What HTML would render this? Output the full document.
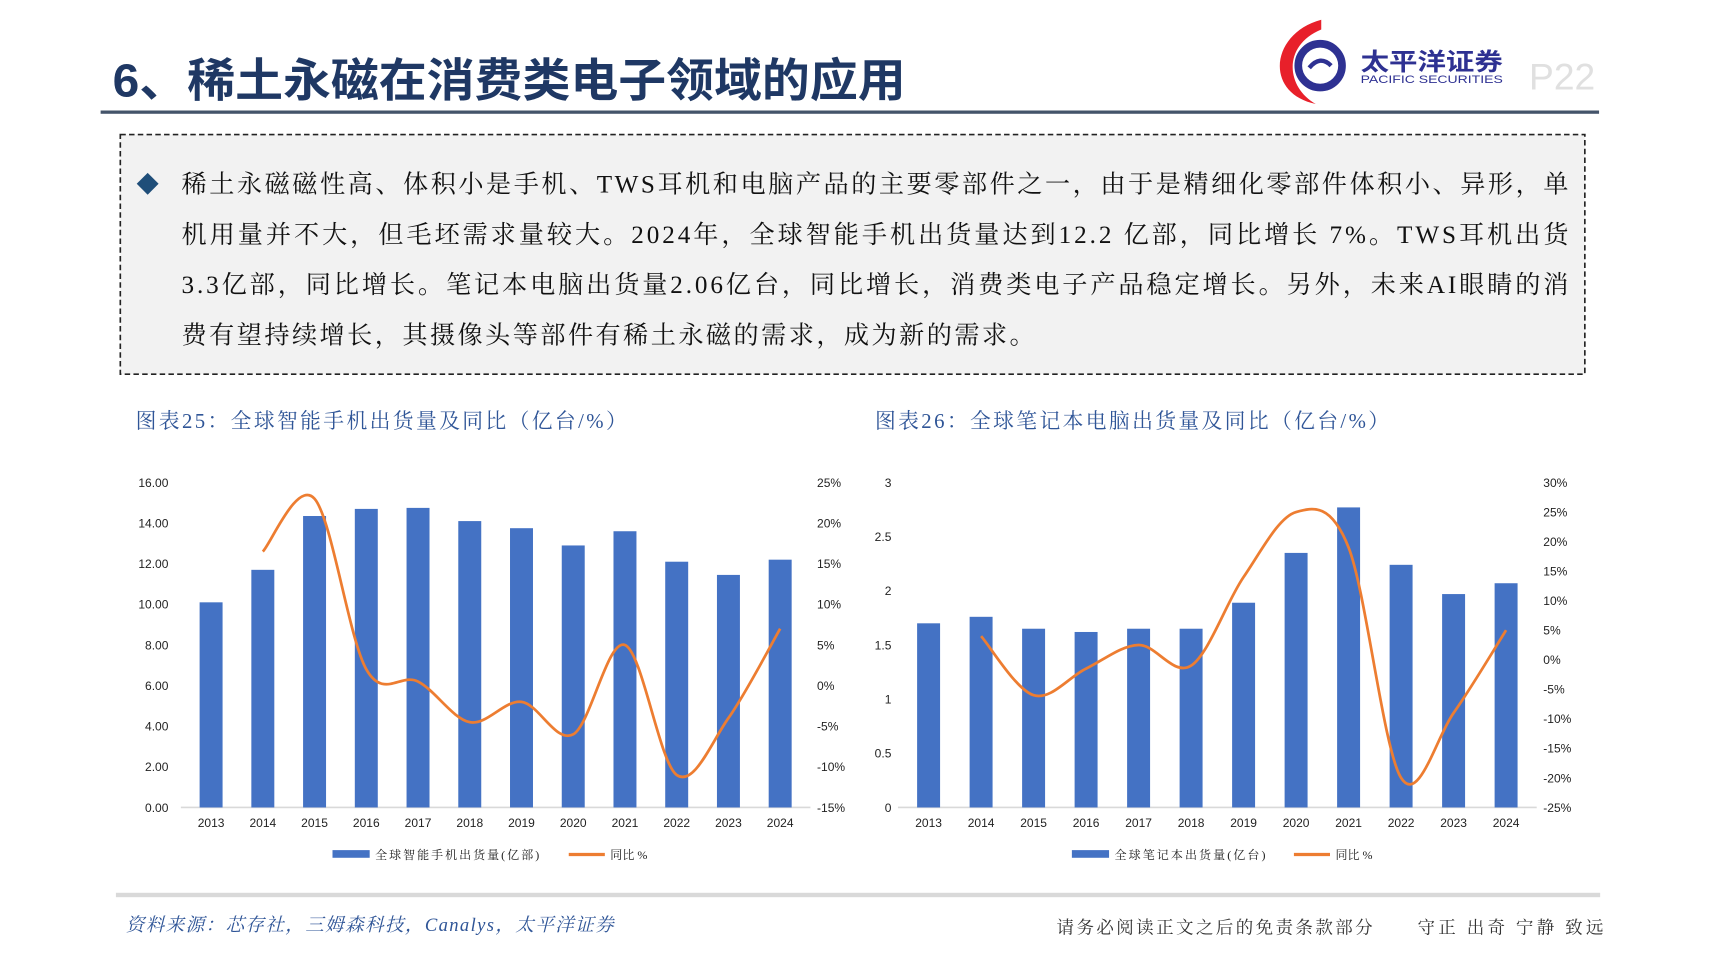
<!DOCTYPE html>
<html><head><meta charset="utf-8">
<style>
html,body{margin:0;padding:0;background:#fff;}
svg{display:block;}
.cj{font-family:"Liberation Serif","Noto Serif CJK SC",serif;}
.sn{font-family:"Liberation Sans","Noto Sans CJK SC",sans-serif;}
</style></head>
<body>
<svg id="page" width="1715" height="965" viewBox="0 0 1568 882" preserveAspectRatio="none" xmlns="http://www.w3.org/2000/svg">
  <!-- header -->
  <text x="103" y="88" class="sn" font-size="42" font-weight="bold" fill="#1f3864" textLength="725" lengthAdjust="spacingAndGlyphs">6、稀土永磁在消费类电子领域的应用</text>
  <rect x="92" y="101" width="1370" height="3" fill="#44546a"/>
  <g>
    <path d="M1208,18 C1162,30 1155,85 1203,95 C1176,80 1172,42 1208,27 Z" fill="#e8202a"/>
    <circle cx="1207" cy="60" r="20" fill="none" stroke="#2e3192" stroke-width="7"/>
    <path d="M1197,62 Q1207,50 1217,60" fill="none" stroke="#2e3192" stroke-width="4"/>
    <text x="1244" y="64" class="sn" font-size="22" font-weight="bold" fill="#2e3192" textLength="130" lengthAdjust="spacingAndGlyphs">太平洋证券</text>
    <text x="1244" y="76" class="sn" font-size="10" fill="#2e3192" textLength="130" lengthAdjust="spacingAndGlyphs">PACIFIC SECURITIES</text>
  </g>
  <text x="1398" y="82" class="sn" font-size="34" fill="#e0e0e0">P22</text>

  <!-- summary box -->
  <rect x="110" y="123" width="1339" height="219" fill="#f2f2f2" stroke="#222" stroke-width="1.5" stroke-dasharray="5,3"/>
  <path d="M135,158 L145,168 L135,178 L125,168 Z" fill="#1f4e79"/>
  <g class="cj" font-size="23" fill="#111">
    <text x="166" y="176" textLength="1268" lengthAdjust="spacing">稀土永磁磁性高、体积小是手机、TWS耳机和电脑产品的主要零部件之一，由于是精细化零部件体积小、异形，单</text>
    <text x="166" y="222" textLength="1268" lengthAdjust="spacing">机用量并不大，但毛坯需求量较大。2024年，全球智能手机出货量达到12.2 亿部，同比增长 7%。TWS耳机出货</text>
    <text x="166" y="268" textLength="1268" lengthAdjust="spacing">3.3亿部，同比增长。笔记本电脑出货量2.06亿台，同比增长，消费类电子产品稳定增长。另外，未来AI眼睛的消</text>
    <text x="166" y="314" textLength="780" lengthAdjust="spacing">费有望持续增长，其摄像头等部件有稀土永磁的需求，成为新的需求。</text>
  </g>

  <!-- chart titles -->
  <text x="124" y="391" class="cj" font-size="19" fill="#2f5597" textLength="449" lengthAdjust="spacing">图表25：全球智能手机出货量及同比（亿台/%）</text>
  <text x="800" y="391" class="cj" font-size="19" fill="#2f5597" textLength="470" lengthAdjust="spacing">图表26：全球笔记本电脑出货量及同比（亿台/%）</text>

  <g id="chart1"></g>
  <g id="chart2"></g>

  <!-- footer -->
  <rect x="106" y="816" width="1357" height="4" fill="#d9d9d9"/>
  <text x="115" y="851" class="cj" font-size="17" font-style="italic" fill="#2f5597" textLength="446" lengthAdjust="spacing">资料来源：芯存社，三姆森科技，Canalys，太平洋证券</text>
  <text x="966" y="853" class="cj" font-size="16" fill="#333" textLength="289" lengthAdjust="spacing">请务必阅读正文之后的免责条款部分</text>
  <text x="1296" y="853" class="cj" font-size="16" fill="#333" textLength="170" lengthAdjust="spacing">守正 出奇 宁静 致远</text>
</svg>
<script>
const years = ['2013','2014','2015','2016','2017','2018','2019','2020','2021','2022','2023','2024'];
const phoneShip = [10.1, 11.7, 14.35, 14.7, 14.75, 14.1, 13.75, 12.9, 13.6, 12.1, 11.45, 12.2];
const phoneYoY = [null, 16.5, 23, 2, 0.5, -4.5, -2, -6, 5, -11, -4, 7];
const phoneLeftTicks = ['0.00','2.00','4.00','6.00','8.00','10.00','12.00','14.00','16.00'];
const phoneRightTicks = ['-15%','-10%','-5%','0%','5%','10%','15%','20%','25%'];
const laptopShip = [1.7, 1.76, 1.65, 1.62, 1.65, 1.65, 1.89, 2.35, 2.77, 2.24, 1.97, 2.07];
const laptopYoY = [null, 4, -6, -1.5, 2.5, -1, 14, 25, 19, -20, -9, 5];
const laptopLeftTicks = ['0','0.5','1','1.5','2','2.5','3'];
const laptopRightTicks = ['-25%','-20%','-15%','-10%','-5%','0%','5%','10%','15%','20%','25%','30%'];

const NS = 'http://www.w3.org/2000/svg';
function mk(parent, tag, attrs, txt){
  const e = document.createElementNS(NS, tag);
  for (const k in attrs) e.setAttribute(k, attrs[k]);
  if (txt !== undefined) e.textContent = txt;
  parent.appendChild(e);
  return e;
}
function drawChart(g, cfg){
  const top = 441, bottom = 738;
  const y = v => bottom - (v - cfg.lmin) / (cfg.lmax - cfg.lmin) * (bottom - top);
  const y2 = v => bottom - (v - cfg.rmin) / (cfg.rmax - cfg.rmin) * (bottom - top);
  const x = i => cfg.x0 + i * cfg.step;
  cfg.lticks.forEach((t, i) => {
    const v = cfg.lmin + i * (cfg.lmax - cfg.lmin) / (cfg.lticks.length - 1);
    const e = mk(g, 'text', {x: cfg.lx, y: y(v) + 4, 'text-anchor': 'end', 'font-size': 11, fill: '#222', class: 'sn'}, t);
    
    
  });
  cfg.rticks.forEach((t, i) => {
    const v = cfg.rmin + i * (cfg.rmax - cfg.rmin) / (cfg.rticks.length - 1);
    const e = mk(g, 'text', {x: cfg.rx, y: y2(v) + 4, 'font-size': 11, fill: '#222', class: 'sn'}, t);
    
    
  });
  const ax = mk(g, 'line', {x1: cfg.x0 - cfg.step / 2 - 4, x2: x(years.length - 1) + cfg.step / 2 + 4, y1: bottom, y2: bottom, stroke: '#d9d9d9', 'stroke-width': 1.5});
  
  
  cfg.bars.forEach((v, i) => {
    const b = mk(g, 'rect', {x: x(i) - 10.5, y: y(v), width: 21, height: bottom - y(v), fill: '#4472c4'});
    
    
    const t = mk(g, 'text', {x: x(i), y: bottom + 18, 'text-anchor': 'middle', 'font-size': 11, fill: '#222', class: 'sn'}, years[i]);
    
    
  });
  const pts = [];
  cfg.line.forEach((v, i) => { if (v !== null) pts.push([x(i), y2(v)]); });
  let d = 'M' + pts[0][0] + ',' + pts[0][1];
  for (let i = 0; i < pts.length - 1; i++) {
    const p0 = pts[Math.max(0, i - 1)], p1 = pts[i], p2 = pts[i + 1], p3 = pts[Math.min(pts.length - 1, i + 2)];
    const c1 = [p1[0] + (p2[0] - p0[0]) / 6, p1[1] + (p2[1] - p0[1]) / 6];
    const c2 = [p2[0] - (p3[0] - p1[0]) / 6, p2[1] - (p3[1] - p1[1]) / 6];
    d += ' C' + c1.join(',') + ' ' + c2.join(',') + ' ' + p2.join(',');
  }
  const ln = mk(g, 'path', {d: d, fill: 'none', stroke: '#ed7d31', 'stroke-width': 2.5});
  
  
  const lr = mk(g, 'rect', {x: cfg.legX, y: 777, width: 34, height: 7, fill: '#4472c4'});
  
  
  const lt = mk(g, 'text', {x: cfg.legX + 39, y: 785, 'font-size': 11, fill: '#222', class: 'cj', textLength: cfg.legLen, lengthAdjust: 'spacing'}, cfg.legText);
  
  
  const ll = mk(g, 'line', {x1: cfg.legX2, x2: cfg.legX2 + 33, y1: 781, y2: 781, stroke: '#ed7d31', 'stroke-width': 3});
  
  
  const l2 = mk(g, 'text', {x: cfg.legX2 + 38, y: 785, 'font-size': 11, fill: '#222', class: 'cj'}, '同比 %');
  
  
}
drawChart(document.getElementById('chart1'), {
  x0: 193, step: 47.3, lmin: 0, lmax: 16, rmin: -15, rmax: 25, lx: 154, rx: 747,
  lticks: phoneLeftTicks, rticks: phoneRightTicks, bars: phoneShip, line: phoneYoY,
  legX: 304, legX2: 520, legText: '全球智能手机出货量(亿部)', legLen: 150
});
drawChart(document.getElementById('chart2'), {
  x0: 849, step: 48, lmin: 0, lmax: 3, rmin: -25, rmax: 30, lx: 815, rx: 1411,
  lticks: laptopLeftTicks, rticks: laptopRightTicks, bars: laptopShip, line: laptopYoY,
  legX: 980, legX2: 1183, legText: '全球笔记本出货量(亿台)', legLen: 138
});
</script>
</body></html>
